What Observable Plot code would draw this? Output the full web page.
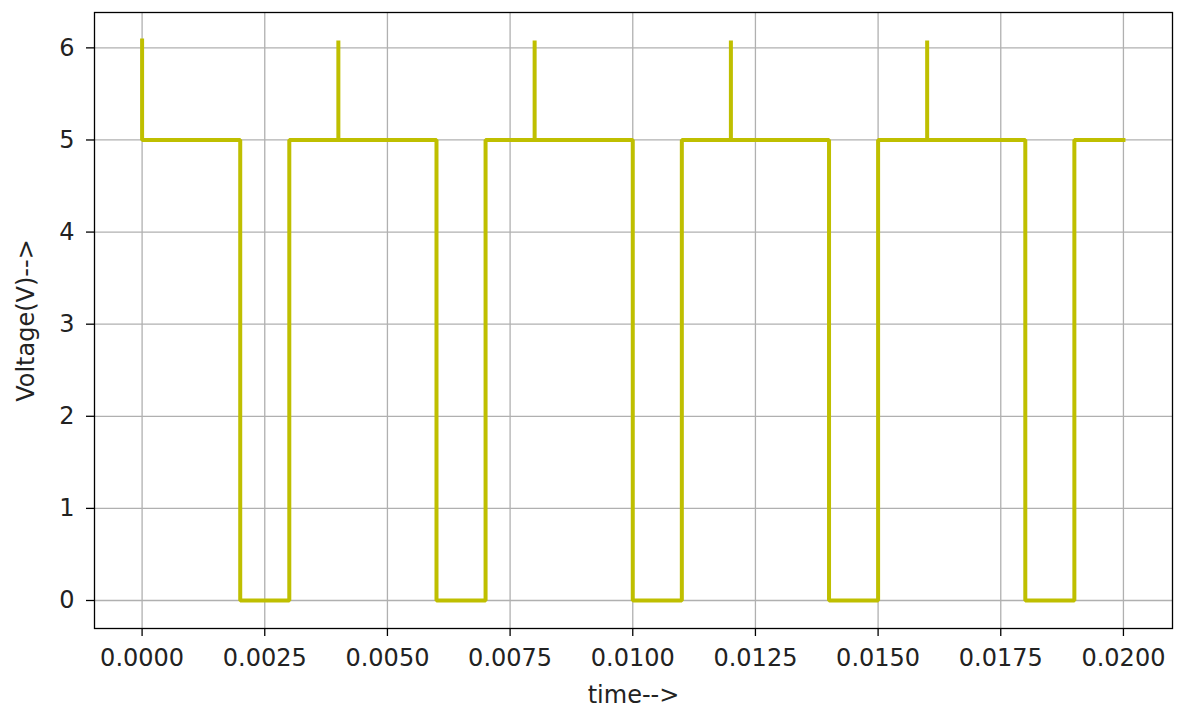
<!DOCTYPE html>
<html>
<head>
<meta charset="utf-8">
<script src="https://cdn.jsdelivr.net/npm/d3@7"></script>
<script src="https://cdn.jsdelivr.net/npm/@observablehq/plot@0.6"></script>
<style>
  html, body { margin: 0; padding: 0; background: #fff; }
  #chart svg { display: block; }
</style>
</head>
<body>
<div id="chart"></div>
<script>
// Waveform vertices (time in s, voltage in V)
const timePts = [0, 0, 0.002, 0.002, 0.003, 0.003, 0.004, 0.004, 0.004, 0.006, 0.006, 0.007, 0.007, 0.008, 0.008, 0.008, 0.010, 0.010, 0.011, 0.011, 0.012, 0.012, 0.012, 0.014, 0.014, 0.015, 0.015, 0.016, 0.016, 0.016, 0.018, 0.018, 0.019, 0.019, 0.020];
const voltPts = [6.08, 5, 5, 0, 0, 5, 5, 6.08, 5, 5, 0, 0, 5, 5, 6.08, 5, 5, 0, 0, 5, 5, 6.08, 5, 5, 0, 0, 5, 5, 6.08, 5, 5, 0, 0, 5, 5];

const xTicks = [0, 0.0025, 0.005, 0.0075, 0.01, 0.0125, 0.015, 0.0175, 0.02];
const xTickLabels = ["0.0000", "0.0025", "0.0050", "0.0075", "0.0100", "0.0125", "0.0150", "0.0175", "0.0200"];
const yTicks = [0, 1, 2, 3, 4, 5, 6];
const xLabel = "time-->";
const yLabel = "Voltage(V)-->";

const data = timePts.map((t, i) => ({t, v: voltPts[i]}));
const font = "'DejaVu Sans', sans-serif";

const chart = Plot.plot({
  width: 1181,
  height: 708,
  marginLeft: 94,
  marginRight: 9,
  marginTop: 12,
  marginBottom: 80,
  style: {fontFamily: font, background: "#fff", color: "#000"},
  x: {domain: [-0.00097, 0.021]},
  y: {domain: [-0.304, 6.384]},
  marks: [
    Plot.gridX(xTicks, {stroke: "#b0b0b0", strokeOpacity: 1, strokeWidth: 1.3}),
    Plot.gridY(yTicks, {stroke: "#b0b0b0", strokeOpacity: 1, strokeWidth: 1.3}),
    Plot.line(data, {x: "t", y: "v", stroke: "#bfbf00", strokeWidth: 4, strokeLinejoin: "miter", strokeLinecap: "square"}),
    Plot.frame({stroke: "#000", strokeWidth: 1.3}),
    Plot.axisX(xTicks, {
      tickSize: 8, tickPadding: 12, strokeWidth: 1.3,
      tickFormat: (d) => xTickLabels[xTicks.indexOf(d)],
      fontSize: 24, label: null, fill: "#222"
    }),
    Plot.axisY(yTicks, {
      tickSize: 8, tickPadding: 12, strokeWidth: 1.3,
      tickFormat: (d) => String(d),
      fontSize: 24, label: null, fill: "#222"
    }),
    Plot.text([xLabel], {frameAnchor: "bottom", lineAnchor: "bottom", dy: 74, fontSize: 24, fill: "#222", text: (d) => d}),
    Plot.text([yLabel], {frameAnchor: "left", rotate: -90, dx: -68, textAnchor: "middle", fontSize: 24, fill: "#222", text: (d) => d})
  ]
});
document.getElementById("chart").appendChild(chart);
</script>
</body>
</html>
